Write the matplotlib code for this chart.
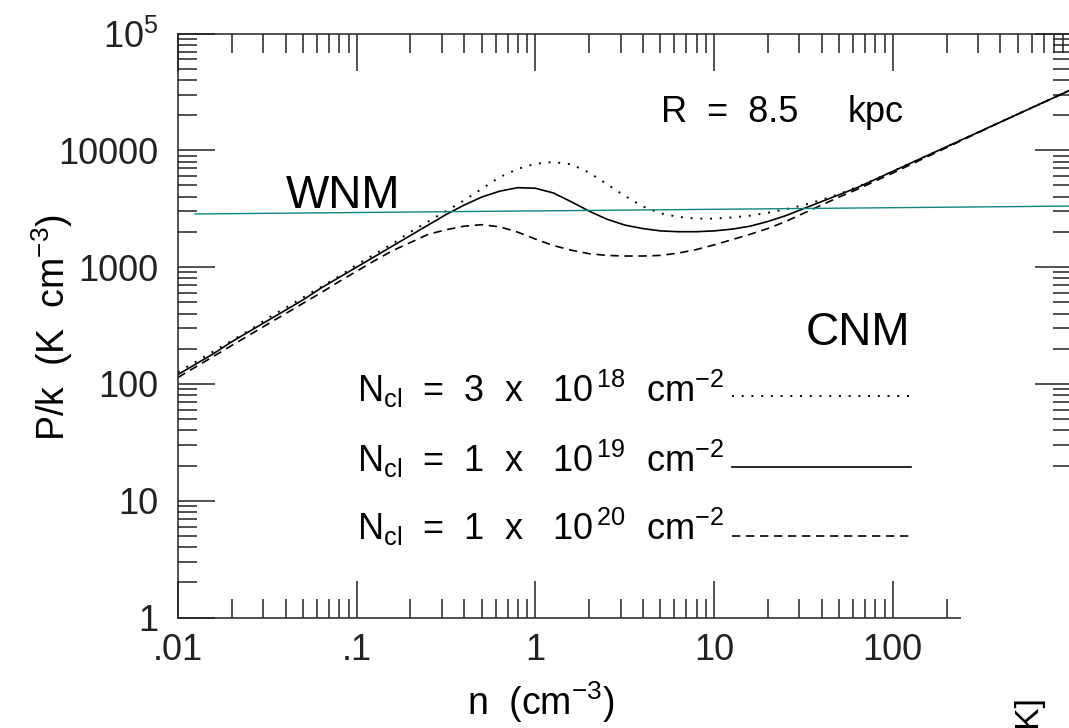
import numpy as np
import matplotlib
matplotlib.use("Agg")
import matplotlib.pyplot as plt
from matplotlib.ticker import LogLocator, NullFormatter
from matplotlib.patches import Rectangle

# log10 of density n (cm^-3)
log_n = [-2.0, -1.9, -1.8, -1.7, -1.6, -1.5, -1.4, -1.3, -1.2, -1.1,
         -1.0, -0.9, -0.8, -0.7, -0.6, -0.5, -0.4, -0.3, -0.2, -0.1,
         0.0, 0.1, 0.2, 0.3, 0.4, 0.5, 0.6, 0.7, 0.8, 0.9,
         1.0, 1.1, 1.2, 1.3, 1.4, 1.5, 1.6, 1.7, 1.8, 1.9,
         2.0, 2.1, 2.2, 2.3, 2.4, 2.5, 2.6, 2.7, 2.8, 2.9, 3.0]

# log10 of P/k for each column density
logp_3e18 = [2.10, 2.19, 2.28, 2.37, 2.46, 2.56, 2.65, 2.74, 2.83, 2.92,
             3.02, 3.11, 3.20, 3.30, 3.39, 3.48, 3.57, 3.67, 3.77, 3.84,
             3.885, 3.90, 3.88, 3.81, 3.71, 3.61, 3.52, 3.46, 3.43, 3.415,
             3.415, 3.425, 3.44, 3.465, 3.495, 3.53, 3.575, 3.625, 3.685, 3.75,
             3.82, 3.89, 3.96, 4.03, 4.10, 4.17, 4.24, 4.31, 4.38, 4.45, 4.52]
logp_1e19 = [2.08, 2.17, 2.26, 2.36, 2.45, 2.54, 2.63, 2.72, 2.82, 2.91,
             3.00, 3.09, 3.18, 3.27, 3.36, 3.45, 3.53, 3.60, 3.65, 3.68,
             3.675, 3.635, 3.56, 3.48, 3.41, 3.36, 3.33, 3.31, 3.303, 3.303,
             3.31, 3.325, 3.35, 3.39, 3.44, 3.50, 3.56, 3.62, 3.68, 3.75,
             3.82, 3.89, 3.96, 4.03, 4.10, 4.17, 4.24, 4.31, 4.38, 4.45, 4.52]
logp_1e20 = [2.055, 2.146, 2.237, 2.328, 2.419, 2.51, 2.60, 2.69, 2.78, 2.875,
             2.965, 3.055, 3.14, 3.21, 3.28, 3.32, 3.35, 3.363, 3.345, 3.30,
             3.24, 3.185, 3.145, 3.115, 3.10, 3.095, 3.095, 3.10, 3.12, 3.15,
             3.19, 3.235, 3.28, 3.33, 3.39, 3.46, 3.53, 3.60, 3.665, 3.735,
             3.805, 3.878, 3.95, 4.022, 4.095, 4.167, 4.24, 4.31, 4.38, 4.45, 4.52]

# thermal pressure line
teal_n = [0.01245, 1000.0]
teal_p = [2850.0, 3330.0]

curve_labels = [r"N$_{\rm cl}$  =  3  x   10$^{\,18}$  cm$^{-2}$",
                r"N$_{\rm cl}$  =  1  x   10$^{\,19}$  cm$^{-2}$",
                r"N$_{\rm cl}$  =  1  x   10$^{\,20}$  cm$^{-2}$"]

x_ticks = [0.01, 0.1, 1, 10, 100]
x_tick_labels = [".01", ".1", "1", "10", "100"]
y_ticks = [1, 10, 100, 1000, 10000, 100000]
y_tick_labels = ["1", "10", "100", "1000", "10000", "10$^5$"]

plt.rcParams["font.family"] = "Liberation Sans"
plt.rcParams["mathtext.fontset"] = "custom"
plt.rcParams["mathtext.rm"] = "Liberation Sans"
plt.rcParams["mathtext.default"] = "regular"

W, H = 1069, 728
fig = plt.figure(figsize=(W / 100, H / 100), dpi=100)
x0, x1, y0, y1 = 178, 1071.5, 33.5, 617.5
ax = fig.add_axes([x0 / W, 1 - y1 / H, (x1 - x0) / W, (y1 - y0) / H])

n = 10 ** np.array(log_n)
lw = 1.2
dotted = (0, (1.0, 4.0))
dashed = (0, (5.0, 3.4))
ax.plot(n, 10 ** np.array(logp_3e18), color="black", lw=1.4, linestyle=dotted)
ax.plot(n, 10 ** np.array(logp_1e19), color="black", lw=lw, linestyle="-")
ax.plot(n, 10 ** np.array(logp_1e20), color="black", lw=lw, linestyle=dashed)
ax.plot(teal_n, teal_p, color="#0f8583", lw=1.0)

ax.set_xscale("log")
ax.set_yscale("log")
ax.set_xlim(0.01, 1000)
ax.set_ylim(1, 1e5)
ax.set_xticks(x_ticks, x_tick_labels)
ax.set_yticks(y_ticks, y_tick_labels)
ax.xaxis.set_minor_locator(LogLocator(base=10, subs=np.arange(2, 10), numticks=30))
ax.yaxis.set_minor_locator(LogLocator(base=10, subs=np.arange(2, 10), numticks=30))
ax.xaxis.set_minor_formatter(NullFormatter())
ax.yaxis.set_minor_formatter(NullFormatter())
ax.tick_params(which="both", direction="in", top=True, right=True, width=1.1, colors="#222222")
ax.tick_params(which="major", length=26.5, labelsize=26)
ax.tick_params(which="minor", length=13.5)
ax.tick_params(axis="x", which="major", pad=11)
ax.tick_params(axis="y", which="major", pad=14)
for s in ax.spines.values():
    s.set_linewidth(1.1)
    s.set_color("#222222")

# legend drawn by hand: text, then line sample
def fx(px):
    return (px - x0) / (x1 - x0)

def fy(py):
    return (y1 - py) / (y1 - y0)

styles = [(dotted, 1.4), ("-", lw), (dashed, lw)]
text_base = [402, 472, 540]
line_y = [395.7, 466.7, 535.7]
for lab, (st, w), tb, ly in zip(curve_labels, styles, text_base, line_y):
    ax.text(fx(357), fy(tb), lab, transform=ax.transAxes, fontsize=26, va="baseline", ha="left")
    ax.plot([fx(732), fx(911)], [fy(ly), fy(ly)], transform=ax.transAxes,
            color="black", lw=w, linestyle=st)

ax.text(fx(286), fy(208), "WNM", transform=ax.transAxes, fontsize=33, va="baseline")
ax.text(fx(806), fy(345), "CNM", transform=ax.transAxes, fontsize=33, va="baseline")
ax.text(fx(661), fy(122), "R  =  8.5", transform=ax.transAxes, fontsize=26, va="baseline")
ax.text(fx(848), fy(122), "kpc", transform=ax.transAxes, fontsize=26, va="baseline")

fig.text(52 / W, 1 - 328 / H, "P/k  (K  cm$^{-3}$)", rotation=90, ha="center", va="center", fontsize=27)
fig.text(541 / W, 1 - 702 / H, "n  (cm$^{-3}$)", ha="center", va="center", fontsize=27)

# cropped-off corner of the original figure
fig.patches.append(Rectangle((961 / W, 0), 0.2, (H - 470) / H, transform=fig.transFigure,
                             facecolor="white", edgecolor="none", zorder=5))
fig.text(1031 / W, 1 - 698 / H, "log T [K]", rotation=90, ha="center", va="top", fontsize=24, zorder=6)

fig.savefig("out.png", dpi=100)
